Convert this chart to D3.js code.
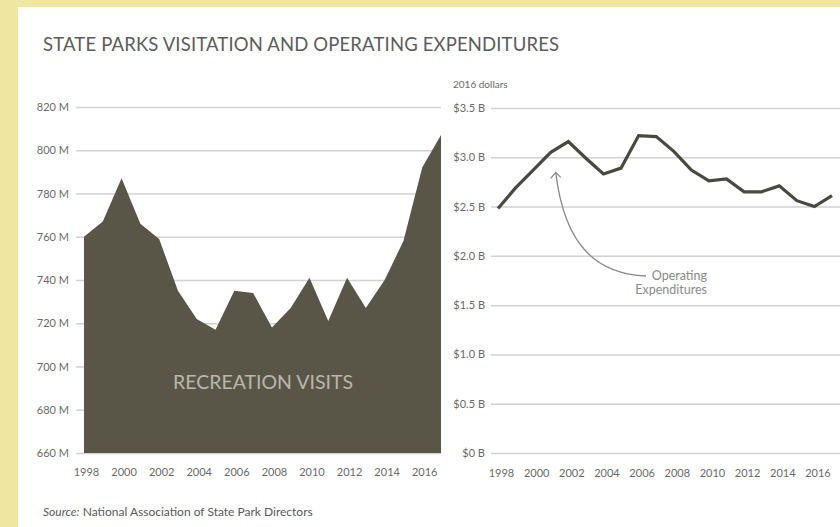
<!DOCTYPE html>
<html>
<head>
<meta charset="utf-8">
<script src="https://cdn.jsdelivr.net/npm/d3@7"></script>
<style>
  html, body { margin: 0; padding: 0; background: #efe6a1; }
  svg { display: block; }
  text { font-family: "Lato", "Open Sans", sans-serif; }
</style>
</head>
<body>
<svg id="chart" width="840" height="527"></svg>
<script>
// Years covered by both panels
const years = d3.range(1998, 2018);

// Recreation visits, millions
const visits = [760, 767, 787, 766, 759, 735, 722, 717, 735, 734,
                718, 727, 741, 721, 741, 727, 740, 758, 792, 807];

// Operating expenditures, billions of 2016 dollars
const expenditures = [2.48, 2.69, 2.87, 3.05, 3.16, 2.99, 2.83, 2.89, 3.22, 3.21,
                      3.06, 2.87, 2.76, 2.78, 2.65, 2.65, 2.71, 2.56, 2.50, 2.61];

const visitTicks = [660, 680, 700, 720, 740, 760, 780, 800, 820];
const spendTicks = [0, 0.5, 1.0, 1.5, 2.0, 2.5, 3.0, 3.5];
const yearTicks = [1998, 2000, 2002, 2004, 2006, 2008, 2010, 2012, 2014, 2016];

const svg = d3.select("#chart");

// white card on the yellow page
svg.append("rect").attr("x", 18).attr("y", 7).attr("width", 822).attr("height", 520).attr("fill", "#ffffff");

svg.append("text")
  .attr("x", 43).attr("y", 51)
  .attr("font-size", 18.5).attr("fill", "#5c5c5c")
  .attr("letter-spacing", 0.15)
  .text("STATE PARKS VISITATION AND OPERATING EXPENDITURES");

const gridColor = "#d2d2d2";
const labelColor = "#6a6a6a";

function styleAxis(g) {
  g.select(".domain").remove();
  g.selectAll(".tick line").attr("stroke", gridColor).attr("stroke-width", 1.5);
  g.selectAll(".tick text").attr("fill", labelColor).attr("font-size", 11)
    .attr("font-family", "Lato, sans-serif");
}

// ---------- Left panel: recreation visits ----------
const xL = d3.scaleLinear().domain([1998, 2017]).range([84, 441]);
const yL = d3.scaleLinear().domain([660, 820]).range([453, 107]);

svg.append("g")
  .attr("transform", "translate(76,0)")
  .call(d3.axisLeft(yL).tickValues(visitTicks).tickSize(-(441 - 76)).tickPadding(7)
    .tickFormat(d => d + " M"))
  .call(styleAxis);

const areaL = d3.area()
  .x((d, i) => xL(years[i]))
  .y0(yL(660))
  .y1(d => yL(d));

svg.append("path").datum(visits).attr("d", areaL).attr("fill", "#5a5647");

svg.append("g")
  .attr("transform", "translate(2,453)")
  .call(d3.axisBottom(xL).tickValues(yearTicks).tickSize(0).tickPadding(15).tickFormat(d3.format("d")))
  .call(styleAxis);

svg.append("text")
  .attr("x", 263).attr("y", 389)
  .attr("text-anchor", "middle")
  .attr("font-size", 19.5).attr("fill", "#b9b6ac")
  .text("RECREATION VISITS");

// ---------- Right panel: operating expenditures ----------
const xR = d3.scaleLinear().domain([1998, 2017]).range([498, 832]);
const yR = d3.scaleLinear().domain([0, 3.5]).range([453, 108]);

svg.append("g")
  .attr("transform", "translate(491,0)")
  .call(d3.axisLeft(yR).tickValues(spendTicks).tickSize(-(840 - 491)).tickPadding(6)
    .tickFormat(d => d === 0 ? "$0 B" : "$" + d.toFixed(1) + " B"))
  .call(styleAxis);

svg.append("g")
  .attr("transform", "translate(3,453)")
  .call(d3.axisBottom(xR).tickValues(yearTicks).tickSize(0).tickPadding(16).tickFormat(d3.format("d")))
  .call(styleAxis);

svg.append("text")
  .attr("x", 453).attr("y", 88)
  .attr("font-size", 10).attr("fill", labelColor)
  .text("2016 dollars");

const lineR = d3.line()
  .x((d, i) => xR(years[i]))
  .y(d => yR(d));

svg.append("path").datum(expenditures).attr("d", lineR)
  .attr("fill", "none").attr("stroke", "#4a4940").attr("stroke-width", 3.2)
  .attr("stroke-linejoin", "miter");

// annotation arrow pointing at the 2001 value
const tipX = xR(2001) + 5, tipY = yR(expenditures[3]) + 20;
svg.append("path")
  .attr("d", `M646,276 C600,274 565,250 ${tipX},${tipY}`)
  .attr("fill", "none").attr("stroke", "#8a8a8a").attr("stroke-width", 1.3);
svg.append("path")
  .attr("d", `M${tipX - 5},${tipY + 6} L${tipX},${tipY} L${tipX + 5},${tipY + 5}`)
  .attr("fill", "none").attr("stroke", "#8a8a8a").attr("stroke-width", 1.3);

const ann = svg.append("text")
  .attr("text-anchor", "end")
  .attr("font-size", 12.5).attr("fill", "#8a8a8a");
ann.append("tspan").attr("x", 707).attr("y", 280).text("Operating");
ann.append("tspan").attr("x", 707).attr("y", 294).text("Expenditures");

// ---------- Source ----------
const src = svg.append("text")
  .attr("x", 43).attr("y", 516)
  .attr("font-size", 12).attr("fill", "#5a5a5a");
src.append("tspan").attr("font-style", "italic").text("Source:");
src.append("tspan").text(" National Association of State Park Directors");
</script>
</body>
</html>
